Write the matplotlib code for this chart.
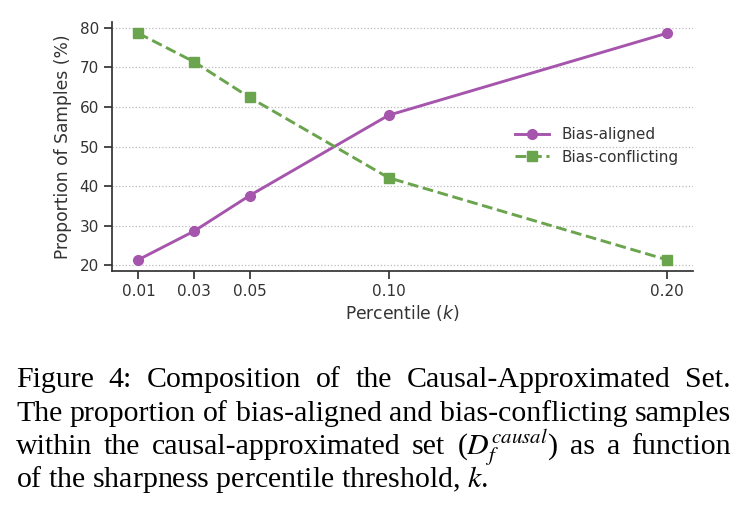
import os
import matplotlib
matplotlib.use("Agg")
import matplotlib.pyplot as plt
from matplotlib.font_manager import FontProperties

# ---- data ----
percentiles = [0.01, 0.03, 0.05, 0.10, 0.20]
tick_labels = ["0.01", "0.03", "0.05", "0.10", "0.20"]
bias_aligned = [21.4, 28.6, 37.6, 57.9, 78.6]
bias_conflicting = [78.6, 71.4, 62.4, 42.1, 21.4]
yticks = [20, 30, 40, 50, 60, 70, 80]

caption_lines = [
    "Figure 4: Composition of the Causal-Approximated Set.",
    "The proportion of bias-aligned and bias-conflicting samples",
    r"within the causal-approximated set ($D_f^{causal}$) as a function",
    r"of the sharpness percentile threshold, $k$.",
]

purple = "#a655ad"
green = "#6aa44d"
dark = "#333333"

dv_path = os.path.join(matplotlib.get_data_path(), "fonts", "ttf", "DejaVuSans.ttf")
fp_tick = FontProperties(fname=dv_path, size=11)
fp_label = FontProperties(fname=dv_path, size=12.3)

plt.rcParams["mathtext.fontset"] = "custom"
plt.rcParams["mathtext.it"] = "DejaVu Sans:italic"

W, H = 747, 513
fig = plt.figure(figsize=(W / 100, H / 100), dpi=100)
ax = fig.add_axes([112 / W, 1 - 271 / H, (693 - 112) / W, (271 - 22) / H])

ax.plot(percentiles, bias_aligned, color=purple, lw=2.1, marker="o",
        markersize=7, label="Bias-aligned", zorder=3)
ax.plot(percentiles, bias_conflicting, color=green, lw=2.1, ls="--",
        marker="s", markersize=7, label="Bias-conflicting", zorder=3)

ax.set_xticks(percentiles)
ax.set_xticklabels(tick_labels, fontproperties=fp_tick)
ax.set_yticks(yticks)
ax.set_yticklabels([str(v) for v in yticks], fontproperties=fp_tick)
ax.margins(x=0.05, y=0.05)
ax.grid(axis="y", ls=":", color="#bbbbbb", lw=0.9)
ax.set_axisbelow(True)
for s in ["top", "right"]:
    ax.spines[s].set_visible(False)
for s in ["left", "bottom"]:
    ax.spines[s].set_color(dark)
    ax.spines[s].set_linewidth(1.25)
ax.tick_params(axis="both", colors=dark, labelcolor=dark,
               length=6, width=1.25)

ax.set_xlabel("Percentile ($k$)", fontproperties=fp_label, color=dark, labelpad=3)
ax.set_ylabel("Proportion of Samples (%)", fontproperties=fp_label, color=dark, labelpad=5)

leg = ax.legend(loc="center left", bbox_to_anchor=(501.5 / W, 1 - 146 / H),
                bbox_transform=fig.transFigure, frameon=False, prop=fp_tick,
                handlelength=2.2, labelspacing=0.5)
for t in leg.get_texts():
    t.set_color(dark)

# ---- caption (justified) ----
x0, x1 = 16, 731
baselines = [387, 421, 454, 487]
renderer = fig.canvas.get_renderer()
cap_kw = dict(fontsize=21.5, family="Liberation Serif", color="black",
              math_fontfamily="stix", va="baseline", ha="left")
for i, line in enumerate(caption_lines):
    y = 1 - baselines[i] / H
    words = line.split(" ")
    if i == len(caption_lines) - 1:
        fig.text(x0 / W, y, line, **cap_kw)
        continue
    texts = [fig.text(0, y, w_, **cap_kw) for w_ in words]
    widths = [t.get_window_extent(renderer).width for t in texts]
    gap = (x1 - x0 - sum(widths)) / (len(words) - 1)
    x = x0
    for t, wd in zip(texts, widths):
        t.set_x(x / W)
        x += wd + gap

fig.savefig("out.png", dpi=100)
